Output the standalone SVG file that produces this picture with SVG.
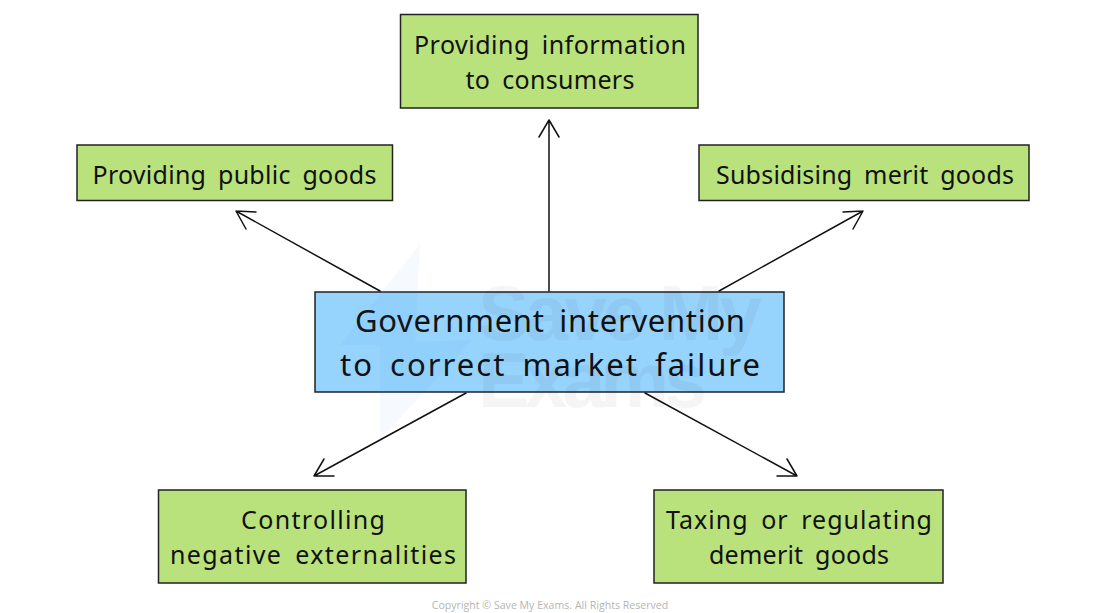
<svg xmlns="http://www.w3.org/2000/svg" width="1100" height="613" viewBox="0 0 1100 613">
<style>
.g{fill:#b9e27c;stroke:#222;stroke-width:1.5}
.b{fill:#96d3fd;stroke:#222;stroke-width:1.5}
text{font-family:"Noto Sans","Liberation Sans",sans-serif;fill:#111;text-anchor:middle}
.t{font-size:25px;word-spacing:5px}
.c{font-size:31px;word-spacing:6px}
.cn{fill:none;stroke:#111;stroke-width:1.5;stroke-linecap:round;stroke-linejoin:round}
.wm{font-family:"Liberation Sans",sans-serif;font-weight:bold;font-size:77px;fill:#000;opacity:.035;text-anchor:start}
</style>
<rect width="1100" height="613" fill="#fff"/>
<g id="node-centre">
<rect class="b" x="315" y="292" width="469" height="100"/>
<text class="c" x="550" y="332" textLength="390">Government intervention</text>
<text class="c" x="550" y="376" textLength="420">to correct market failure</text>
</g>
<g id="watermark">
<path d="M420 244L340 345L378 345L380 345L380 440L472 340L415 342Z" fill="#2f80ff" opacity=".045"/>
<text class="wm" x="478" y="340" textLength="284">Save My</text>
<text class="wm" x="478" y="407" textLength="229">Exams</text>
</g>
<g id="node-information">
<rect class="g" x="400.500" y="14.500" width="297.500" height="93.500"/>
<text class="t" x="550" y="54" textLength="272">Providing information</text>
<text class="t" x="550" y="89" textLength="169">to consumers</text>
</g>
<g id="node-public">
<rect class="g" x="77" y="145" width="315.500" height="55.500"/>
<text class="t" x="234.500" y="184" textLength="284">Providing public goods</text>
</g>
<g id="node-merit">
<rect class="g" x="699" y="145" width="330" height="55.500"/>
<text class="t" x="865" y="184" textLength="298">Subsidising merit goods</text>
</g>
<g id="node-externalities">
<rect class="g" x="158.500" y="490" width="307.500" height="93"/>
<text class="t" x="313" y="529" textLength="144">Controlling</text>
<text class="t" x="313" y="564" textLength="286">negative externalities</text>
</g>
<g id="node-demerit">
<rect class="g" x="654" y="490" width="289" height="93"/>
<text class="t" x="799" y="529" textLength="266">Taxing or regulating</text>
<text class="t" x="799" y="564" textLength="180">demerit goods</text>
</g>
<g id="connectors">
<path class="cn" d="M549 291V120M539 137L549 120L559 137"/>
<path class="cn" d="M380 291L236 211M256 212L236 211L246 229"/>
<path class="cn" d="M719 291L863 211M843 212L863 211L853 229"/>
<path class="cn" d="M466 393L314 476M334 476L314 476L324 459"/>
<path class="cn" d="M645 393L797 476M777 476L797 476L787 459"/>
</g>
<text id="copyright" x="550" y="609" style="font-family:'Open Sans',sans-serif;font-size:10.600px;fill:#b5b5b5">Copyright © Save My Exams. All Rights Reserved</text>
</svg>
